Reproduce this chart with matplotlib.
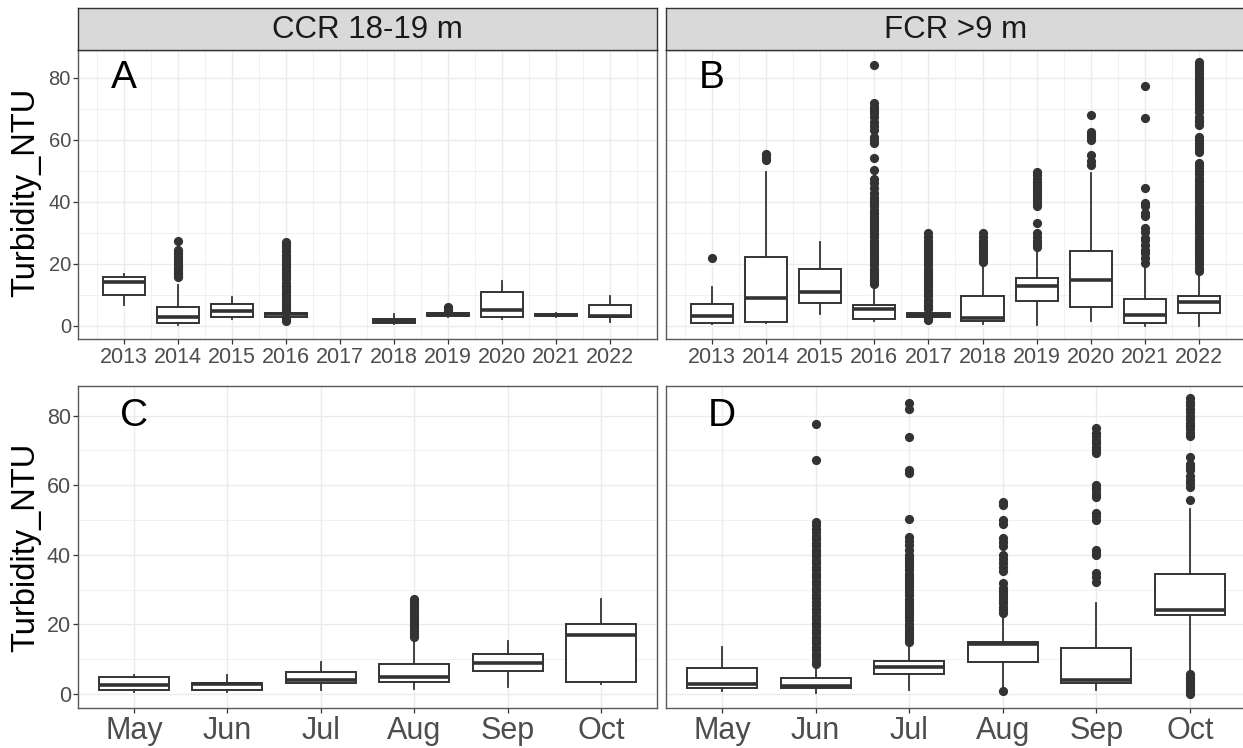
import matplotlib
matplotlib.use('Agg')
import matplotlib.pyplot as plt
from matplotlib.ticker import FixedLocator

plt.rcParams['font.family'] = ['Liberation Sans', 'DejaVu Sans']

# ---------------- data ----------------
years = ['2013', '2014', '2015', '2016', '2017', '2018', '2019', '2020', '2021', '2022']
months = ['May', 'Jun', 'Jul', 'Aug', 'Sep', 'Oct']
strip_titles = ['CCR 18-19 m', 'FCR >9 m']
panel_letters = ['A', 'B', 'C', 'D']
y_title = 'Turbidity_NTU'
y_ticks = [0, 20, 40, 60, 80]

# Panel A: CCR by year (2017 has no data)
ccr_year_q1 = [9.9, 1.1, 2.8, 3.0, None, 0.9, 3.2, 3.0, 3.1, 2.8]
ccr_year_med = [14.1, 2.8, 4.9, 3.7, None, 1.6, 3.7, 5.2, 3.5, 3.2]
ccr_year_q3 = [15.8, 6.2, 7.0, 4.3, None, 2.4, 4.1, 11.1, 4.0, 6.8]
ccr_year_wlo = [6.7, 0.3, 2.4, 2.9, None, 0.5, 3.0, 2.4, 3.0, 1.4]
ccr_year_whi = [16.6, 13.2, 9.3, 4.8, None, 3.9, 4.5, 14.4, 4.2, 9.5]
ccr_year_out = [
    [],
    [27.5, 24.5, 23.8, 23.0, 22.2, 21.5, 20.8, 20.0, 19.3, 18.6, 18.0, 17.4, 16.8, 16.2, 15.7],
    [],
    [1.7, 2.2, 2.7, 4.9, 5.5, 6.2, 7.0, 8.0, 9.0, 10.0, 11.0, 12.0, 13.0, 14.0, 15.0, 16.0,
     17.0, 18.0, 19.0, 20.0, 21.0, 22.0, 23.0, 24.0, 25.0, 26.0, 27.2],
    [],
    [],
    [4.9, 5.3, 5.7, 6.2],
    [],
    [],
    [],
]

# Panel B: FCR by year
fcr_year_q1 = [1.1, 1.4, 7.3, 2.4, 3.0, 1.6, 8.2, 6.0, 1.1, 4.3]
fcr_year_med = [3.3, 9.1, 10.8, 5.4, 3.5, 2.5, 13.0, 14.7, 3.5, 7.6]
fcr_year_q3 = [7.0, 22.1, 18.5, 6.8, 4.1, 9.5, 15.5, 24.2, 8.8, 9.8]
fcr_year_wlo = [0.6, 1.1, 3.9, 1.6, 2.6, 0.6, 0.3, 1.6, 0.0, 0.0]
fcr_year_whi = [12.4, 49.7, 26.9, 12.7, 5.0, 19.7, 24.8, 49.4, 19.1, 17.0]
fcr_year_out = [
    [21.9],
    [53.5, 54.2, 55.0, 55.3],
    [],
    [13.5, 14.5, 15.5, 16.5, 17.5, 18.5, 19.5, 20.5, 21.5, 22.5, 23.5, 24.5, 25.5, 26.5,
     27.5, 28.5, 29.5, 30.5, 31.5, 32.5, 33.5, 34.5, 35.5, 36.5, 37.5, 38.5, 39.5, 40.6,
     41.5, 42.7, 44.4, 46.0, 47.3, 50.3, 54.0, 58.9, 60.0, 61.0, 63.0, 64.5, 65.8,
     67.2, 68.5, 69.5, 70.5, 71.9, 84.1],
    [1.9, 2.3, 2.7, 5.5, 6.5, 7.5, 8.5, 9.5, 10.5, 11.5, 12.5, 13.5, 14.5, 15.5, 16.5,
     17.5, 18.5, 19.5, 20.5, 21.5, 22.5, 23.5, 24.5, 25.5, 26.5, 27.5, 28.5, 29.9],
    [20.5, 21.5, 22.5, 23.5, 24.5, 25.5, 26.5, 27.5, 28.5, 29.9],
    [25.5, 26.5, 27.5, 28.5, 29.9, 33.3, 38.5, 39.5, 40.5, 41.5, 42.5, 43.5, 44.5, 45.5,
     46.5, 47.5, 48.5, 49.7],
    [51.9, 53.0, 55.0, 59.9, 61.0, 62.0, 62.6, 67.9],
    [20.2, 21.8, 23.4, 24.5, 26.1, 27.7, 28.2, 30.4, 31.5, 35.4, 36.3, 38.5, 39.5, 44.4,
     67.1, 77.4],
    [17.8, 18.8, 19.8, 20.8, 21.8, 22.8, 23.8, 24.8, 25.8, 26.8, 27.8, 28.8, 29.8, 30.8,
     31.8, 32.8, 33.8, 34.8, 35.8, 36.8, 37.8, 38.8, 39.8, 40.8, 41.8, 42.8, 43.8, 44.8,
     45.8, 46.8, 47.8, 48.8, 49.8, 50.8, 51.8, 52.5, 56.0, 57.0, 58.0, 59.0, 60.0, 61.0,
     64.7, 65.6, 66.5, 67.3, 68.9, 69.8, 70.7, 71.6, 72.5, 73.4, 74.3, 75.2, 76.1, 77.0,
     77.9, 78.8, 79.7, 80.6, 81.5, 82.4, 83.3, 84.2, 85.0],
]

# Panel C: CCR by month
ccr_month_q1 = [1.1, 1.2, 3.0, 3.4, 6.7, 3.4]
ccr_month_med = [2.5, 2.8, 4.0, 4.9, 9.0, 16.8]
ccr_month_q3 = [4.8, 3.2, 6.2, 8.6, 11.4, 20.2]
ccr_month_wlo = [0.6, 0.5, 1.0, 1.4, 2.1, 2.8]
ccr_month_whi = [5.4, 5.5, 9.3, 15.9, 15.3, 27.4]
ccr_month_out = [
    [],
    [],
    [],
    [16.5, 17.3, 18.1, 18.9, 19.7, 20.5, 21.3, 22.1, 22.9, 23.7, 24.5, 25.3, 26.1, 26.8, 27.4],
    [],
    [],
]

# Panel D: FCR by month
fcr_month_q1 = [1.6, 1.6, 5.7, 9.3, 3.1, 22.7]
fcr_month_med = [2.8, 2.2, 7.6, 14.4, 4.0, 24.0]
fcr_month_q3 = [7.5, 4.7, 9.5, 15.0, 13.1, 34.5]
fcr_month_wlo = [0.7, 0.2, 1.0, 1.6, 1.0, 5.7]
fcr_month_whi = [13.6, 7.9, 14.1, 22.5, 26.1, 53.1]
fcr_month_out = [
    [],
    [8.6, 9.5, 10.5, 11.5, 12.5, 13.5, 14.5, 15.5, 16.5, 17.5, 18.5, 19.5, 20.5, 21.5,
     22.5, 23.5, 24.5, 25.5, 26.5, 27.5, 28.5, 29.5, 30.5, 31.5, 32.5, 33.5, 34.5, 35.5,
     36.5, 37.5, 38.5, 39.5, 40.5, 41.5, 42.5, 43.5, 44.5, 45.5, 46.5, 47.5, 48.5, 49.5,
     67.2, 77.5],
    [14.8, 15.7, 16.6, 17.5, 18.4, 19.3, 20.2, 21.1, 22.0, 22.9, 23.8, 24.7, 25.6, 26.5,
     27.4, 28.3, 29.2, 30.1, 31.0, 31.9, 32.8, 33.7, 34.6, 35.5, 36.4, 37.3, 38.2, 39.1,
     40.0, 41.4, 42.8, 44.0, 45.2, 50.3, 63.6, 64.4, 73.7, 82.0, 83.5],
    [0.7, 23.3, 24.2, 25.1, 26.0, 26.9, 27.8, 28.7, 29.6, 30.5, 31.8, 35.2, 36.4, 37.6,
     38.8, 39.8, 42.6, 43.7, 44.7, 48.8, 50.0, 54.3, 55.3],
    [32.3, 33.5, 34.7, 39.9, 40.6, 41.4, 50.0, 51.0, 51.9, 56.7, 57.5, 58.5, 59.2, 60.0,
     69.2, 70.0, 71.0, 72.0, 73.0, 74.0, 75.0, 76.3],
    [0.0, 0.7, 1.4, 2.1, 2.8, 3.5, 4.2, 4.9, 5.7, 55.8, 59.6, 60.6, 61.5, 62.5, 64.4,
     65.2, 66.0, 68.0, 74.0, 75.0, 76.0, 77.0, 77.8, 79.0, 80.0, 81.0, 82.0, 83.0, 84.0, 85.0],
]

# ---------------- style ----------------
W, H = 1243, 748
fig = plt.figure(figsize=(W / 100, H / 100), dpi=100)

INK = '#333333'
GRID = '#EBEBEB'
BORDER = '#5a5a5a'


def fx(px):
    return px / W


def fy(py):
    return 1 - py / H


def make_stats(q1, med, q3, wlo, whi, out):
    stats, pos = [], []
    for i in range(len(q1)):
        if q1[i] is None:
            continue
        stats.append(dict(q1=q1[i], med=med[i], q3=q3[i], whislo=wlo[i], whishi=whi[i],
                          fliers=out[i]))
        pos.append(i)
    return stats, pos


def draw_panel(rect, labels, stats_args, xlim, ylim, width, letter, tick_fs_x, tick_fs_y,
               minor_x, show_y):
    ax = fig.add_axes(rect)
    ax.set_facecolor('white')
    stats, pos = make_stats(*stats_args)
    ax.bxp(stats, positions=pos, widths=width, patch_artist=True, showcaps=False,
           boxprops=dict(facecolor='white', edgecolor=INK, linewidth=1.4),
           medianprops=dict(color=INK, linewidth=2.6, solid_capstyle='butt'),
           whiskerprops=dict(color=INK, linewidth=1.3),
           flierprops=dict(marker='o', markerfacecolor=INK, markeredgecolor=INK,
                           markersize=5.6, linestyle='none'),
           zorder=3)
    ax.set_xlim(*xlim)
    ax.set_ylim(*ylim)
    ax.set_xticks(range(len(labels)))
    ax.set_xticklabels(labels)
    ax.set_yticks(y_ticks)
    ax.yaxis.set_minor_locator(FixedLocator([10, 30, 50, 70]))
    if minor_x:
        ax.xaxis.set_minor_locator(FixedLocator([i - 0.5 for i in range(len(labels) + 1)]))
    ax.set_axisbelow(True)
    ax.grid(which='major', color=GRID, linewidth=1.0, zorder=0)
    ax.grid(which='minor', color=GRID, linewidth=0.5, zorder=0)
    ax.tick_params(which='minor', length=0)
    ax.tick_params(which='major', color=INK, length=3.6, width=0.9, labelcolor='#4D4D4D')
    ax.tick_params(axis='x', labelsize=tick_fs_x, pad=2)
    ax.tick_params(axis='y', labelsize=tick_fs_y, pad=1.5)
    if not show_y:
        ax.tick_params(axis='y', which='both', left=False, labelleft=False)
    for s in ax.spines.values():
        s.set_color(BORDER)
        s.set_linewidth(1.0)
    ax.text(0, 80, letter, fontsize=28, ha='center', va='center', color='black', zorder=5)
    return ax


def draw_strip(left, right, top, bottom, title):
    sax = fig.add_axes([fx(left), fy(bottom), fx(right) - fx(left), fy(top) - fy(bottom)])
    sax.set_facecolor('#D9D9D9')
    sax.set_xticks([])
    sax.set_yticks([])
    for s in sax.spines.values():
        s.set_color(INK)
        s.set_linewidth(1.0)
    sax.text(0.5, 0.47, title, transform=sax.transAxes, ha='center', va='center',
             fontsize=22.5, color='#1A1A1A')


# pixel geometry
L1, R1 = 78, 657
L2, R2 = 666, 1246
TOP_T, TOP_B = 50, 339
BOT_T, BOT_B = 386, 708

top_ylim = (-4.2, 88.9)
bot_ylim = (-4.05, 88.5)

draw_panel([fx(L1), fy(TOP_B), fx(R1) - fx(L1), fy(TOP_T) - fy(TOP_B)], years,
           (ccr_year_q1, ccr_year_med, ccr_year_q3, ccr_year_wlo, ccr_year_whi, ccr_year_out),
           (-0.85, 9.87), top_ylim, 0.78, panel_letters[0], 15.5, 14.5, True, True)
draw_panel([fx(L2), fy(TOP_B), fx(R2) - fx(L2), fy(TOP_T) - fy(TOP_B)], years,
           (fcr_year_q1, fcr_year_med, fcr_year_q3, fcr_year_wlo, fcr_year_whi, fcr_year_out),
           (-0.85, 9.87), top_ylim, 0.78, panel_letters[1], 15.5, 14.5, True, False)
draw_panel([fx(L1), fy(BOT_B), fx(R1) - fx(L1), fy(BOT_T) - fy(BOT_B)], months,
           (ccr_month_q1, ccr_month_med, ccr_month_q3, ccr_month_wlo, ccr_month_whi,
            ccr_month_out),
           (-0.6, 5.6), bot_ylim, 0.75, panel_letters[2], 22, 15.5, False, True)
draw_panel([fx(L2), fy(BOT_B), fx(R2) - fx(L2), fy(BOT_T) - fy(BOT_B)], months,
           (fcr_month_q1, fcr_month_med, fcr_month_q3, fcr_month_wlo, fcr_month_whi,
            fcr_month_out),
           (-0.6, 5.6), bot_ylim, 0.75, panel_letters[3], 22, 15.5, False, False)

draw_strip(L1, R1, 8, TOP_T, strip_titles[0])
draw_strip(L2, R2, 8, TOP_T, strip_titles[1])

fig.text(fx(26), fy((TOP_T + TOP_B) / 2 - 2), y_title, rotation=90, ha='center', va='center',
         fontsize=23.5, color='black')
fig.text(fx(26), fy((BOT_T + BOT_B) / 2), y_title, rotation=90, ha='center', va='center',
         fontsize=23.5, color='black')

fig.savefig('out.png', dpi=100, facecolor='white')
